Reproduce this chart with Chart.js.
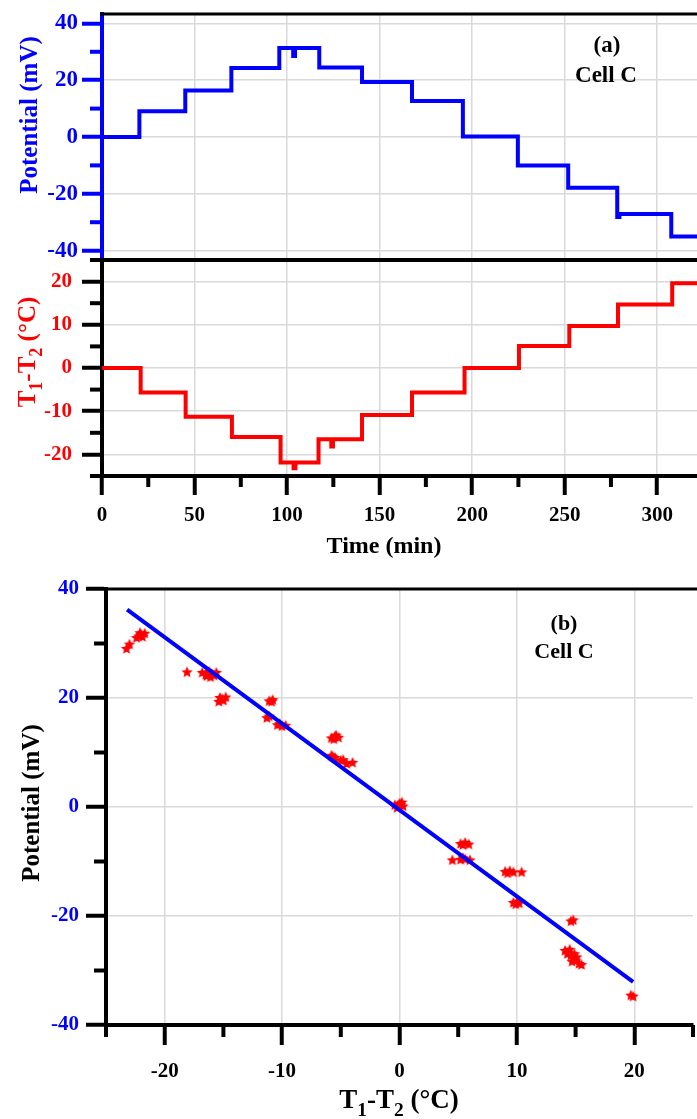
<!DOCTYPE html>
<html lang="en">
<head>
<meta charset="UTF-8" />
<title>Cell C: potential and T1-T2</title>
<script src="https://cdn.jsdelivr.net/npm/chart.js"></script>
<style>
  html, body { margin: 0; padding: 0; background: #fff; overflow: hidden; }
  body { width: 697px; height: 1119px; position: relative; }
  .panel { position: absolute; left: 0; }
  #topBox { top: 0; width: 697px; height: 262px; }
  #midBox { top: 250px; width: 697px; height: 310px; }
  #fitBox { top: 560px; width: 700px; height: 559px; }
</style>
</head>
<body>
<div class="panel" id="topBox"><canvas id="potChart"></canvas></div>
<div class="panel" id="midBox"><canvas id="tempChart"></canvas></div>
<div class="panel" id="fitBox"><canvas id="fitChart"></canvas></div>

<script>
  // ---- panel (a): potential and T1-T2 against time (time where each level starts) ----
  const potTime  = [0, 20.2, 45, 69.9, 95.8, 103.3, 104.3, 117.4, 140.5, 167.5, 195, 224.7, 251.9, 278.4, 279.6, 307.6, 321.5];
  const potValue = [0, 9.1, 16.4, 24.3, 31.3, 28.5, 31.3, 24.5, 19.4, 12.7, 0.2, -10.0, -17.9, -28.2, -27.1, -35.0, -35.0];

  const dtTime  = [0, 20.9, 45.2, 70.2, 96.5, 103.5, 104.5, 117, 123.9, 124.8, 140.5, 167.5, 195.9, 225.3, 252.5, 278.8, 308.1, 321.5];
  const dtValue = [0, -5.7, -11.3, -16.0, -21.9, -23.2, -21.9, -16.5, -18.2, -16.5, -10.9, -5.7, 0, 5.1, 9.7, 14.7, 19.6, 19.6];

  const timeTicks = [0, 50, 100, 150, 200, 250, 300];
  const timeMinor = [25, 75, 125, 175, 225, 275];
  const potTicks  = [-40, -20, 0, 20, 40];
  const potMinor  = [-30, -10, 10, 30];
  const dtTicks   = [-20, -10, 0, 10, 20];
  const dtMinor   = [-25, -15, -5, 5, 15, 25];

  // ---- panel (b): potential against T1-T2 ----
  const scatterDT = [
    -23.25, -23.0,
    -22.4, -22.0, -21.7, -22.2, -21.9, -22.1,
    -18.1,
    -16.8, -16.4, -16.0, -15.6, -16.2, -16.5, -16.1, -15.8,
    -15.4, -15.1, -14.8, -15.0, -15.3,
    -11.1, -10.8, -10.9,
    -11.3, -11.1,
    -10.4, -10.0, -9.7, -10.2,
    -5.8, -5.5, -5.2, -5.6, -5.4,
    -5.8, -5.5, -5.7,
    -5.0, -4.5, -4.0, -4.8,
    -0.4, 0, 0.3, -0.2, 0.1, 0.2,
    5.2, 5.6, 5.9, 5.4,
    4.5, 5.2, 5.6, 6.0, 5.4,
    9.0, 9.4, 9.7, 10.4, 9.2,
    9.7, 10.0, 10.2, 9.9,
    14.6, 14.8,
    14.1, 14.4, 14.6, 14.8, 15.0, 15.3, 14.3, 14.9, 15.5, 14.5, 15.1, 14.7,
    19.7, 19.9
  ];
  const scatterPot = [
    29.0, 29.8,
    31.0, 31.6, 31.8, 31.3, 31.2, 31.9,
    24.7,
    24.6, 24.0, 24.4, 24.6, 24.8, 24.2, 23.8, 24.1,
    19.3, 19.8, 20.1, 19.5, 20.0,
    19.4, 19.6, 19.3,
    16.3, 16.6,
    15.0, 14.8, 14.9, 15.2,
    12.6, 12.9, 12.7, 12.4, 13.1,
    9.4, 9.0, 9.2,
    8.5, 7.9, 8.1, 8.6,
    0.3, 0.6, 0.1, -0.2, 0.4, 0.8,
    -6.8, -6.6, -6.9, -7.0,
    -9.8, -9.7, -9.6, -9.8, -9.4,
    -11.9, -11.8, -12.0, -12.0, -12.2,
    -17.6, -17.5, -17.7, -17.9,
    -21.0, -20.8,
    -26.4, -26.8, -27.3, -27.8, -28.2, -28.8, -27.0, -27.0, -29.0, -26.2, -27.6, -28.4,
    -34.6, -34.8
  ];
  const fitDT  = [-23.2, 19.9];
  const fitPot = [36.2, -32.1];

  const diffTicks = [-20, -10, 0, 10, 20];
  const diffMinor = [-25, -15, -5, 5, 15, 25];
  const fitPotTicks = [-40, -20, 0, 20, 40];
  const fitPotMinor = [-30, -10, 10, 30];

  const blue = '#0000ff';
  const red = '#ff0000';
  const black = '#000000';
  const gridColor = '#d9d9d9';
  const serif = '"Liberation Serif", "Times New Roman", serif';

  const tickFont = size => ({ family: serif, weight: 'bold', size: size });

  function fixedTicks(values) {
    return scale => { scale.ticks = values.map(v => ({ value: v })); };
  }

  // keep the plot area where the figure has it
  function fixSize(w, h) {
    return s => {
      if (w !== undefined) s.width = w;
      if (h !== undefined) s.height = h;
      s.paddingTop = s.paddingBottom = s.paddingLeft = s.paddingRight = 0;
    };
  }

  function toPoints(xs, ys) {
    return xs.map((x, i) => ({ x: x, y: ys[i] }));
  }

  function drawRichText(ctx, t) {
    const parts = t.parts.map(p => (typeof p === 'string' ? { text: p } : p));
    const fontFor = p => 'bold ' + (p.sub ? t.size * 0.72 : t.size) + 'px ' + serif;
    let total = 0;
    parts.forEach(p => { ctx.font = fontFor(p); p.w = ctx.measureText(p.text).width; total += p.w; });
    ctx.save();
    ctx.translate(t.x, t.y);
    if (t.rotate) ctx.rotate(t.rotate);
    ctx.fillStyle = t.color;
    ctx.textAlign = 'left';
    ctx.textBaseline = 'alphabetic';
    let cx = -total / 2;
    const base = t.size * 0.3;
    parts.forEach(p => {
      ctx.font = fontFor(p);
      ctx.fillText(p.text, cx, base + (p.sub ? t.size * 0.3 : 0));
      cx += p.w;
    });
    ctx.restore();
  }

  // top border line, short minor ticks, axis titles and notes
  const panelDecor = {
    id: 'panelDecor',
    afterDraw(chart, args, opts) {
      const ctx = chart.ctx;
      const a = chart.chartArea;
      ctx.save();
      if (opts.topBorder) {
        ctx.strokeStyle = black;
        ctx.lineWidth = opts.topBorder;
        ctx.beginPath();
        ctx.moveTo(a.left - 2, a.top);
        ctx.lineTo(chart.width, a.top);
        ctx.stroke();
      }
      (opts.minorTicks || []).forEach(m => {
        const s = chart.scales[m.axis];
        ctx.strokeStyle = m.color;
        ctx.lineWidth = 4;
        m.values.forEach(v => {
          const p = s.getPixelForValue(v);
          ctx.beginPath();
          if (s.isHorizontal()) { ctx.moveTo(p, a.bottom); ctx.lineTo(p, a.bottom + m.length); }
          else { ctx.moveTo(a.left - m.length, p); ctx.lineTo(a.left, p); }
          ctx.stroke();
        });
      });
      ctx.restore();
      (opts.texts || []).forEach(t => drawRichText(ctx, t));
    }
  };

  function starImage(r, color) {
    const c = document.createElement('canvas');
    const size = Math.ceil(r * 2) + 2;
    c.width = c.height = size;
    const g = c.getContext('2d');
    g.fillStyle = color;
    g.beginPath();
    for (let i = 0; i < 10; i++) {
      const rad = i % 2 ? r * 0.45 : r;
      const ang = -Math.PI / 2 + i * Math.PI / 5;
      g.lineTo(size / 2 + rad * Math.cos(ang), size / 2 + rad * Math.sin(ang));
    }
    g.closePath();
    g.fill();
    return c;
  }

  const common = {
    responsive: true,
    maintainAspectRatio: false,
    animation: false,
    events: []
  };

  // Potential vs time
  new Chart(document.getElementById('potChart'), {
    type: 'line',
    data: {
      datasets: [{
        data: toPoints(potTime, potValue),
        stepped: true,
        borderColor: blue,
        borderWidth: 4,
        pointRadius: 0,
        fill: false
      }]
    },
    options: {
      ...common,
      layout: { padding: { top: 14, bottom: 2, left: 0, right: 0 } },
      plugins: {
        legend: { display: false },
        tooltip: { enabled: false },
        panelDecor: {
          topBorder: 3,
          minorTicks: [{ axis: 'y', values: potMinor, length: 12, color: blue }],
          texts: [
            { parts: ['Potential (mV)'], x: 29, y: 115, size: 25, color: blue, rotate: -Math.PI / 2 },
            { parts: ['(a)'], x: 607, y: 45, size: 23, color: black },
            { parts: ['Cell C'], x: 606, y: 75, size: 23, color: black }
          ]
        }
      },
      scales: {
        x: {
          type: 'linear', min: 0, max: 321.5,
          afterBuildTicks: fixedTicks(timeTicks),
          afterFit: fixSize(undefined, 0),
          ticks: { display: false },
          grid: { color: gridColor, lineWidth: 1.5, drawTicks: false },
          border: { display: false }
        },
        y: {
          min: -43.3, max: 43.3,
          afterBuildTicks: fixedTicks(potTicks),
          afterFit: fixSize(102),
          ticks: { color: blue, font: tickFont(23), padding: 4 },
          grid: { color: gridColor, lineWidth: 1.5, tickLength: 20, tickColor: blue, tickWidth: 4 },
          border: { color: blue, width: 4 }
        }
      }
    },
    plugins: [panelDecor]
  });

  // T1-T2 vs time
  new Chart(document.getElementById('tempChart'), {
    type: 'line',
    data: {
      datasets: [{
        data: toPoints(dtTime, dtValue),
        stepped: true,
        borderColor: red,
        borderWidth: 4,
        pointRadius: 0,
        fill: false
      }]
    },
    options: {
      ...common,
      layout: { padding: { top: 10, bottom: 0, left: 0, right: 0 } },
      plugins: {
        legend: { display: false },
        tooltip: { enabled: false },
        panelDecor: {
          topBorder: 4,
          minorTicks: [
            { axis: 'y', values: dtMinor, length: 12, color: black },
            { axis: 'x', values: timeMinor, length: 11, color: black }
          ],
          texts: [
            { parts: ['T', { text: '1', sub: true }, '-T', { text: '2', sub: true }, ' (°C)'],
              x: 27, y: 102, size: 25, color: red, rotate: -Math.PI / 2 },
            { parts: ['Time (min)'], x: 384, y: 296, size: 24, color: black }
          ]
        }
      },
      scales: {
        x: {
          type: 'linear', min: 0, max: 321.5,
          afterBuildTicks: fixedTicks(timeTicks),
          afterFit: fixSize(undefined, 84),
          ticks: { color: black, font: tickFont(21), padding: 8 },
          grid: { color: gridColor, lineWidth: 1.5, tickLength: 19, tickColor: black, tickWidth: 4 },
          border: { color: black, width: 4 }
        },
        y: {
          min: -25, max: 25,
          afterBuildTicks: fixedTicks(dtTicks),
          afterFit: fixSize(102),
          ticks: { color: red, font: tickFont(21), padding: 10 },
          grid: { color: gridColor, lineWidth: 1.5, tickLength: 20, tickColor: black, tickWidth: 4 },
          border: { color: black, width: 4 }
        }
      }
    },
    plugins: [panelDecor]
  });

  // Potential vs T1-T2 with linear fit
  new Chart(document.getElementById('fitChart'), {
    type: 'scatter',
    data: {
      datasets: [
        {
          type: 'line',
          data: toPoints(fitDT, fitPot),
          borderColor: blue,
          borderWidth: 4,
          pointRadius: 0,
          fill: false
        },
        {
          data: toPoints(scatterDT, scatterPot),
          pointStyle: starImage(6, red),
          pointRadius: 6,
          backgroundColor: red,
          borderColor: red
        }
      ]
    },
    options: {
      ...common,
      layout: { padding: { top: 29, bottom: 0, left: 0, right: 0 } },
      plugins: {
        legend: { display: false },
        tooltip: { enabled: false },
        panelDecor: {
          topBorder: 3,
          minorTicks: [
            { axis: 'y', values: fitPotMinor, length: 12, color: black },
            { axis: 'x', values: diffMinor, length: 12, color: black }
          ],
          texts: [
            { parts: ['Potential (mV)'], x: 31, y: 243, size: 25, color: black, rotate: -Math.PI / 2 },
            { parts: ['T', { text: '1', sub: true }, '-T', { text: '2', sub: true }, ' (°C)'],
              x: 399, y: 540, size: 27, color: black },
            { parts: ['(b)'], x: 564, y: 63, size: 22, color: black },
            { parts: ['Cell C'], x: 564, y: 91, size: 22, color: black }
          ]
        }
      },
      scales: {
        x: {
          type: 'linear', min: -25, max: 25,
          afterBuildTicks: fixedTicks(diffTicks),
          afterFit: fixSize(undefined, 94),
          ticks: { color: black, font: tickFont(21), padding: 14 },
          grid: { color: gridColor, lineWidth: 1.5, tickLength: 20, tickColor: black, tickWidth: 4 },
          border: { color: black, width: 4 }
        },
        y: {
          min: -40, max: 40,
          afterBuildTicks: fixedTicks(fitPotTicks),
          afterFit: fixSize(106),
          ticks: { color: blue, font: tickFont(21), padding: 7 },
          grid: { color: gridColor, lineWidth: 1.5, tickLength: 20, tickColor: black, tickWidth: 4 },
          border: { color: black, width: 4 }
        }
      }
    },
    plugins: [panelDecor]
  });
</script>
</body>
</html>
